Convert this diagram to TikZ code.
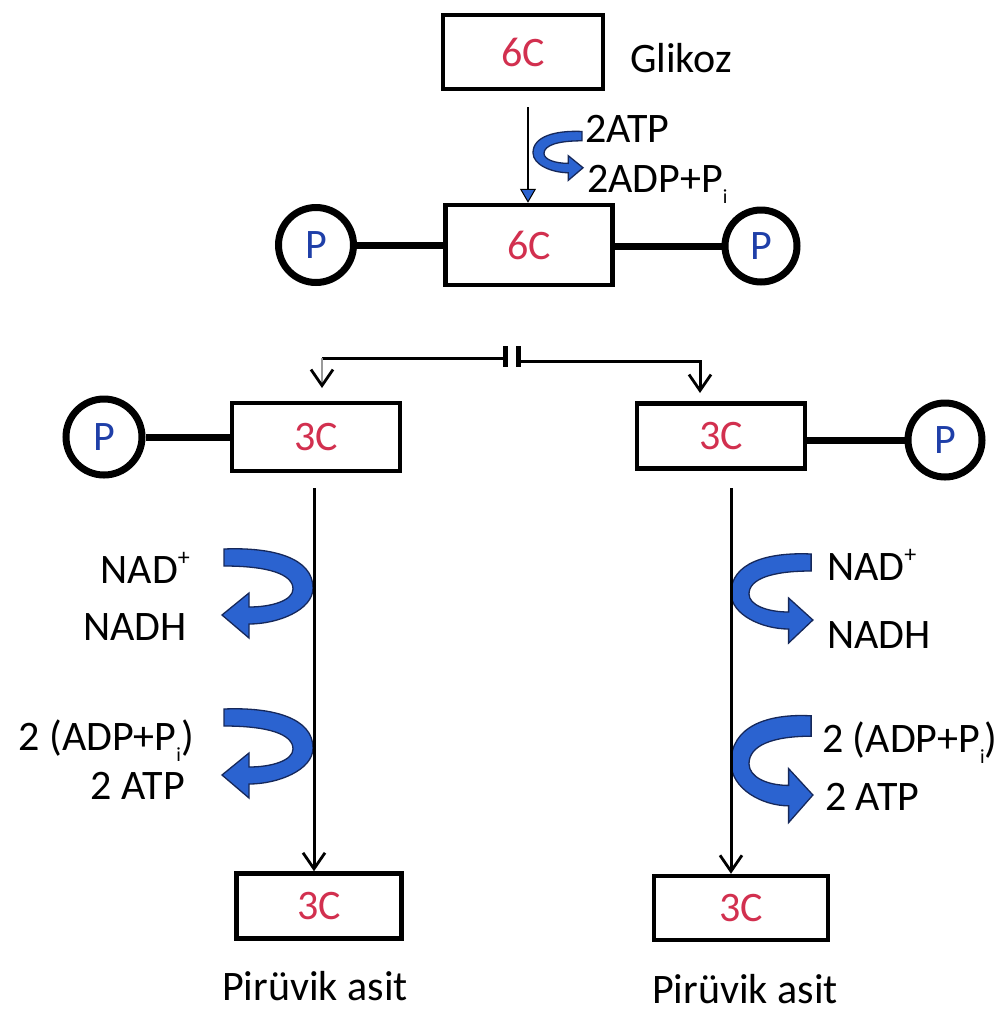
\documentclass[tikz,border=0pt]{standalone}
\usepackage{fontspec}
\setmainfont{Carlito}
\usetikzlibrary{arrows.meta}
\definecolor{cred}{HTML}{D2304F}
\definecolor{pblue}{HTML}{1F3FA8}
\definecolor{abl}{HTML}{2B63D0}
\definecolor{aedge}{HTML}{16285A}
\newcommand{\subi}{\raisebox{-0.28em}{\fontsize{20}{20}\selectfont i}}
\newcommand{\supplus}{\raisebox{0.42em}{\fontsize{24}{24}\selectfont +}}
\tikzset{
  arr/.style={fill=abl, draw=aedge, line width=1.3pt},
  carrow/.pic={
    \path[arr] (-89,-41) .. controls (-40,-43) and (0,-32) .. (0,-2)
      .. controls (0,20) and (-35,34) .. (-64,34)
      -- (-64,48) -- (-91,25) -- (-64,3) -- (-64,17)
      .. controls (-40,17) and (-20,10) .. (-20,-1)
      .. controls (-20,-16) and (-45,-24) .. (-89,-24) -- cycle;
  }
}
\begin{document}
\begin{tikzpicture}[x=1pt,y=-1pt, font=\fontsize{42}{48}\selectfont,
  box/.style={draw, line width=4.5pt, text=cred, inner sep=0pt},
  pcirc/.style={circle, draw, line width=7pt, text=pblue, minimum size=75pt, inner sep=0pt},
  bond/.style={line width=7pt},
  thinline/.style={line width=3pt},
  lbl/.style={inner sep=0pt},
  barb/.style={-{Straight Barb[length=16pt,width=22pt,line width=2.8pt,color=black]}}]
\useasboundingbox (0,0) rectangle (1005,1013);
\fill[white] (0,0) rectangle (1005,1013);

% top part
\node[box, minimum width=160pt, minimum height=74pt] (b1) at (523,52) {6C};
\node[lbl, anchor=base west] (glk) at (630,72) {Glikoz};
\node[box, minimum width=167pt, minimum height=80pt] (b2) at (529,245) {6C};
\node[pcirc] (p1) at (316,245) {P};
\node[pcirc, minimum size=72pt] (p2) at (761,246) {P};
\draw[bond] (p1) -- (b2);
\draw[bond] (p2) -- (b2.east |- p2);

\pic[xscale=-0.55, yscale=0.55] at (533,154) {carrow};
\coordinate (s0) at (528,107);
\draw[line width=2pt, -{Triangle[length=14pt,width=16pt,fill=abl,line width=1pt]}] (s0) -- (s0 |- b2.north);
\node[lbl, anchor=base west] (atp0) at (585,142) {2ATP};
\node[lbl, anchor=base west] (adp0) at (587,192) {2ADP+P\subi};

% split
\coordinate (jl) at (505,358);
\coordinate (jr) at (518,361);
\coordinate (tl) at (322,388);
\coordinate (tr) at (700,393);
\draw[line width=3pt] (jl) -- (jl -| tl);
\draw[line width=2pt, black!40, barb] (jl -| tl) -- (tl);
\draw[line width=3pt, barb] (jr) -| (tr);
\draw[line width=5pt] (505,346) -- (505,367);
\draw[line width=5pt] (518,346) -- (518,367);

% middle boxes
\node[box, minimum width=168pt, minimum height=68pt] (l3) at (316,437) {3C};
\node[pcirc, minimum size=76pt] (lp) at (104,437) {P};
\draw[bond] (lp) -- (l3);
\node[box, minimum width=168pt, minimum height=65pt] (r3) at (721,436) {3C};
\node[pcirc, minimum size=74pt] (rp) at (945,440) {P};
\draw[bond] (r3.east |- rp) -- (rp);

% bottom boxes
\node[box, minimum width=165pt, minimum height=65pt] (l4) at (319,906) {3C};
\node[box, minimum width=174pt, minimum height=64pt] (r4) at (741,908) {3C};
\node[lbl, anchor=base] (lpa) at (315,1000) {Pirüvik asit};
\node[lbl, anchor=base] (rpa) at (745,1003) {Pirüvik asit};

% curved arrows
\pic at (313,590) {carrow};
\pic at (313,750) {carrow};
\pic[xscale=-0.9] at (731,595) {carrow};
\pic[xscale=-0.9, yscale=1.2] at (731,765) {carrow};

% vertical lines
\coordinate (sL) at (314,488);
\coordinate (sR) at (731,488);
\draw[thinline, barb] (sL) -- (sL |- l4.north);
\draw[thinline, barb] (sR) -- (sR |- r4.north);

% labels
\node[lbl, anchor=base east] (nad1) at (190,583) {NAD\supplus};
\node[lbl, anchor=base east] (ndh1) at (187,640) {NADH};
\node[lbl, anchor=base east] (adp1) at (194,750) {2 (ADP+P\subi)};
\node[lbl, anchor=base east] (atp1) at (185,799) {2 ATP};
\node[lbl, anchor=base west] (nad2) at (827,580) {NAD\supplus};
\node[lbl, anchor=base west] (ndh2) at (827,648) {NADH};
\node[lbl, anchor=base west] (adp2) at (822,752) {2 (ADP+P\subi)};
\node[lbl, anchor=base west] (atp2) at (825,810) {2 ATP};
\end{tikzpicture}
\end{document}
